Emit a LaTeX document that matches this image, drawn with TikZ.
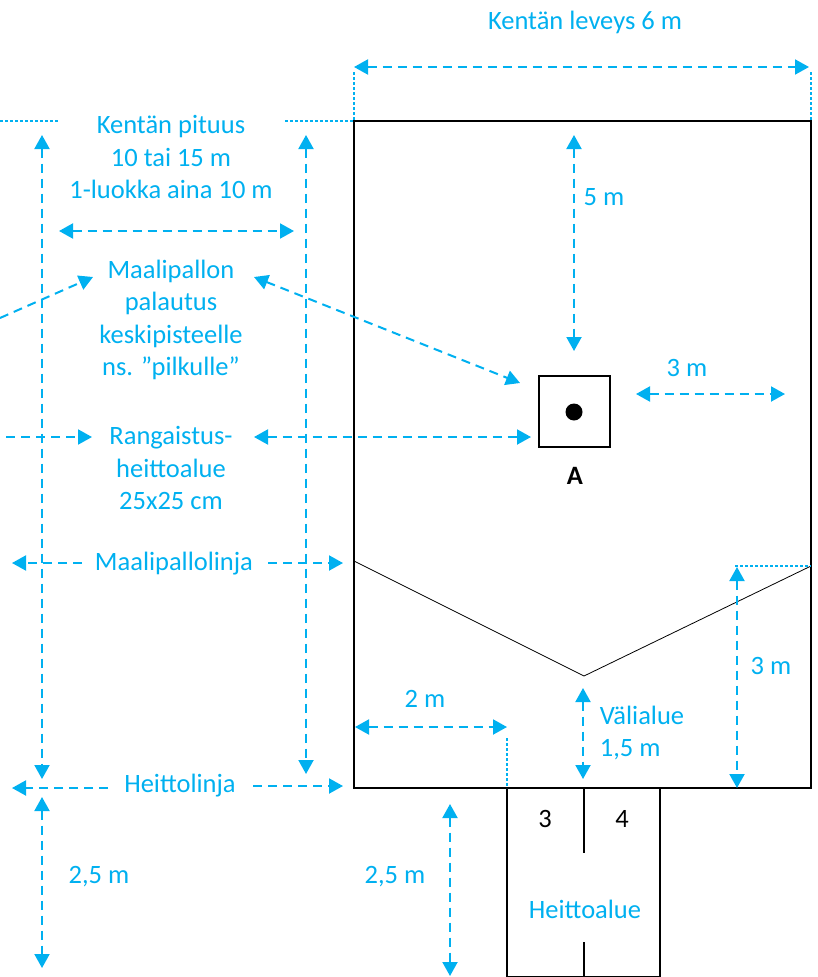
\documentclass[tikz,border=0pt]{standalone}
\usepackage{fontspec}
\setmainfont{Carlito}
\usetikzlibrary{arrows.meta}
\definecolor{cy}{HTML}{00B0F0}
\tikzset{x=1pt,y=-1pt,
 dim/.style={cy,line width=2pt,dash pattern=on 9pt off 6pt,{Triangle[length=14pt,width=15pt]}-{Triangle[length=14pt,width=15pt]}},
 one/.style={cy,line width=2pt,dash pattern=on 9pt off 6pt,-{Triangle[length=14pt,width=15pt]}},
 thin1/.style={cy,line width=1.1pt,dash pattern=on 3pt off 2pt},
 lab/.style={text=cy,font=\fontsize{26.5}{32.5}\selectfont,align=center,inner sep=0pt},
 blk/.style={black,line width=2pt},
 num/.style={font=\fontsize{26.5}{30}\selectfont,inner sep=0pt}}
\begin{document}
\begin{tikzpicture}
\useasboundingbox (0,0) rectangle (817,977);
\coordinate (tl) at (354,121);\coordinate (tr) at (811,121);\coordinate (bl) at (354,788);\coordinate (br) at (811,788);
\draw[blk] (tl) rectangle (br);
\draw[black,line width=.8pt] (354,561) -- (584,676) -- (811,566);
\draw[blk,line width=1.5pt] (507,788) -- (507,977) (660,788) -- (660,977) (507,976.5) -- (660,976.5);
\draw[blk,line width=2.5pt] (584,788) -- (584,853) (584,942) -- (584,977);
\node[draw,black,line width=2pt,minimum size=71pt,inner sep=0pt] (sq) at (574,411) {};
\fill (574,412) circle (8.5);
\node[num,font=\fontsize{26.5}{30}\selectfont\bfseries] (A) at (575,476) {A};
\node[lab] at (585,22) {Kentän leveys 6 m};
\draw[dim] (354,67) -- (809,67);
\draw[thin1] (354,72) -- (354,121) (811,72) -- (811,121) (0,121) -- (58,121) (285,121) -- (354,121) (735,566) -- (811,566) (507,738) -- (507,788);
\node[lab] at (171,157) {Kentän pituus\\10 tai 15 m\\1-luokka aina 10 m};
\draw[dim] (42,135) -- (42,779);
\draw[dim] (306,135) -- (306,774);
\draw[dim] (59,231) -- (294,231);
\node[lab] (mp) at (171,320) {Maalipallon\\palautus\\keskipisteelle\\ns. ”pilkulle”};
\draw[one] (0,318) -- (93,277);
\draw[dim] (254,277) -- (520,383);
\draw[dim] (574,135) -- (574,351);
\node[lab] at (604,197) {5 m};
\node[lab] at (687,368) {3 m};
\draw[dim] (636,394) -- (785,394);
\draw[one] (6,437) -- (92,437);
\node[lab] at (171,468) {Rangaistus-\\heittoalue\\25x25 cm};
\draw[dim] (254,437) -- (531,437);
\draw[one] (82,563) -- (12,563);
\node[lab] at (174,564) {Maalipallolinja};
\draw[one] (268,563) -- (343,563);
\draw[dim] (737,567) -- (737,788);
\node[lab] at (771,666) {3 m};
\node[lab] at (425,699) {2 m};
\draw[dim] (355,727) -- (507,727);
\draw[dim] (583,688) -- (583,779);
\node[lab,align=left] at (642,733) {Välialue\\1,5 m};
\draw[one] (108,788) -- (12,788);
\node[lab] at (180,786) {Heittolinja};
\draw[one] (253,786) -- (343,786);
\draw[dim] (42,797) -- (42,968);
\node[lab] at (99,877) {2,5 m};
\draw[dim] (450,804) -- (450,976);
\node[lab] at (395,877) {2,5 m};
\node[num] at (545,819) {3};
\node[num] at (622,819) {4};
\node[lab] at (585,909) {Heittoalue};
\end{tikzpicture}
\end{document}
